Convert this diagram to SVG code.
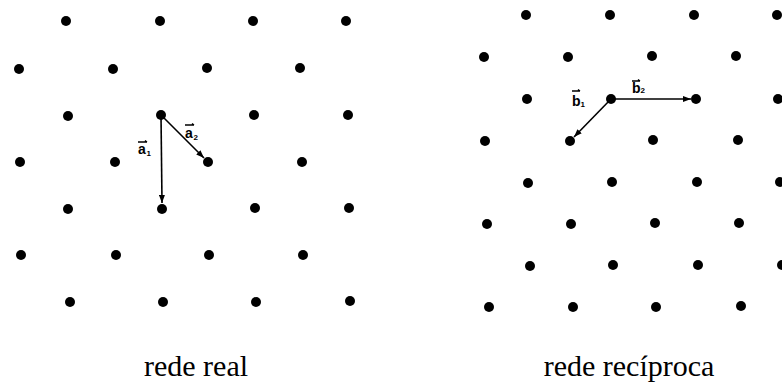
<svg xmlns="http://www.w3.org/2000/svg" width="782" height="382" viewBox="0 0 782 382">
<style>
.d{fill:#000}
.v{stroke:#000;stroke-width:1.6;fill:none}
.lb{font-family:"Liberation Sans",Arial,sans-serif;font-weight:bold;font-size:14px;fill:#000}
.sb{font-family:"Liberation Sans",Arial,sans-serif;font-weight:bold;font-size:8px;fill:#000}
.ov{stroke:#000;stroke-width:1.3;fill:none}
.cap{font-family:"Liberation Serif","Times New Roman",serif;font-size:30px;fill:#000;text-anchor:middle}
</style>
<defs>
<marker id="ah" markerWidth="8" markerHeight="6" refX="8" refY="3" orient="auto" markerUnits="userSpaceOnUse">
<path d="M0,0 L8,3 L0,6 Z" fill="#000"/>
</marker>
<circle id="p" r="5"/>
</defs>
<rect width="782" height="382" fill="#fff"/>
<g id="real-lattice" class="d">
<use href="#p" x="66" y="21"/><use href="#p" x="160" y="21"/><use href="#p" x="253" y="21"/><use href="#p" x="346" y="21"/>
<use href="#p" x="19" y="69"/><use href="#p" x="113" y="69"/><use href="#p" x="207" y="68"/><use href="#p" x="300" y="68"/>
<use href="#p" x="68" y="116"/><use href="#p" x="161" y="115"/><use href="#p" x="254" y="115"/><use href="#p" x="348" y="115"/>
<use href="#p" x="20" y="162"/><use href="#p" x="115" y="162"/><use href="#p" x="208" y="162"/><use href="#p" x="302" y="162"/>
<use href="#p" x="68" y="209"/><use href="#p" x="162" y="209"/><use href="#p" x="255" y="208"/><use href="#p" x="349" y="208"/>
<use href="#p" x="21" y="255"/><use href="#p" x="116" y="255"/><use href="#p" x="209" y="255"/><use href="#p" x="303" y="255"/>
<use href="#p" x="70" y="302"/><use href="#p" x="163" y="302"/><use href="#p" x="256" y="302"/><use href="#p" x="350" y="301"/>
</g>
<g id="reciprocal-lattice" class="d">
<use href="#p" x="526" y="15"/><use href="#p" x="610" y="15"/><use href="#p" x="694" y="15"/><use href="#p" x="777" y="15"/>
<use href="#p" x="484" y="57"/><use href="#p" x="568" y="57"/><use href="#p" x="652" y="56"/><use href="#p" x="736" y="56"/>
<use href="#p" x="527" y="99"/><use href="#p" x="611" y="99"/><use href="#p" x="696" y="99"/><use href="#p" x="778" y="99"/>
<use href="#p" x="485" y="141"/><use href="#p" x="570" y="141"/><use href="#p" x="653" y="140"/><use href="#p" x="738" y="140"/>
<use href="#p" x="528" y="183"/><use href="#p" x="612" y="182"/><use href="#p" x="697" y="182"/><use href="#p" x="780" y="182"/>
<use href="#p" x="487" y="224"/><use href="#p" x="571" y="224"/><use href="#p" x="655" y="223"/><use href="#p" x="739" y="223"/>
<use href="#p" x="530" y="266"/><use href="#p" x="613" y="265"/><use href="#p" x="698" y="265"/><use href="#p" x="782" y="265"/>
<use href="#p" x="489" y="307"/><use href="#p" x="573" y="307"/><use href="#p" x="656" y="307"/><use href="#p" x="741" y="306"/>
</g>
<g id="connectors">
<line id="a1" class="v" x1="161" y1="115" x2="162" y2="203" marker-end="url(#ah)"/>
<line id="a2" class="v" x1="161" y1="115" x2="204" y2="158" marker-end="url(#ah)"/>
<line id="b1" class="v" x1="611" y1="99" x2="574" y2="137" marker-end="url(#ah)"/>
<line id="b2" class="v" x1="611" y1="99" x2="691" y2="99" marker-end="url(#ah)"/>
</g>
<g id="labels">
<g id="label-a1"><path class="ov" d="M138,142 H147 M145,140.5 L147,142"/><text class="lb" x="138" y="154">a</text><text class="sb" x="146.5" y="156">1</text></g>
<g id="label-a2"><path class="ov" d="M185,125 H194 M192,123.5 L194,125"/><text class="lb" x="185" y="138">a</text><text class="sb" x="193.5" y="140">2</text></g>
<g id="label-b1"><path class="ov" d="M572,91 H580 M578,89.5 L580,91"/><text class="lb" x="572" y="106">b</text><text class="sb" x="580.5" y="107">1</text></g>
<g id="label-b2"><path class="ov" d="M632,81 H640 M638,79.5 L640,81"/><text class="lb" x="632" y="93">b</text><text class="sb" x="640.5" y="93">2</text></g>
</g>
<text class="cap" x="196" y="376">rede real</text>
<text class="cap" x="629" y="376">rede recíproca</text>
</svg>
